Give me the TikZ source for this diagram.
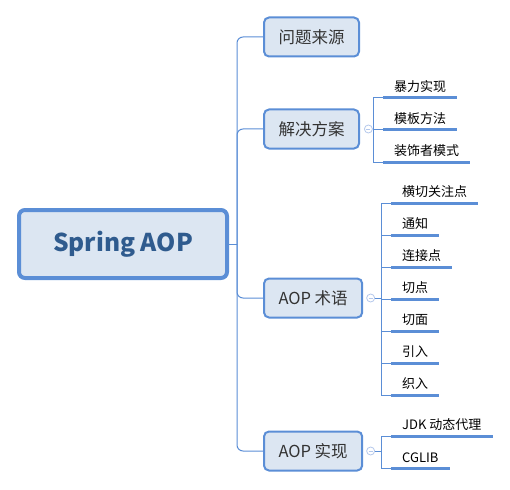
\documentclass[tikz,border=0pt]{standalone}
\usepackage{fontspec}
\setmainfont{Noto Sans CJK SC}
\usetikzlibrary{positioning}

\definecolor{edgeblue}{HTML}{5B8ED6}
\definecolor{boxfill}{HTML}{DCE6F2}
\definecolor{roottext}{HTML}{2F5B8E}
\definecolor{foldblue}{HTML}{B4C8EC}

\tikzset{
  rootbox/.style={draw=edgeblue, line width=4pt, fill=boxfill, rounded corners=6pt,
    minimum width=208pt, minimum height=68pt, text=roottext,
    font=\fontsize{24.5}{28}\selectfont\bfseries},
  topicbox/.style={draw=edgeblue, line width=2pt, fill=boxfill, rounded corners=5pt,
    anchor=west, inner xsep=14.5pt, minimum height=39pt, text=black!80,
    font=\fontsize{16.5}{20}\selectfont},
  leaf/.style={anchor=south west, inner xsep=11pt, inner ysep=5pt,
    font=\fontsize{13}{15}\selectfont},
  leafline/.style={draw=edgeblue, line width=3pt},
  branch/.style={draw=edgeblue, line width=1pt},
  fold/.style={circle, draw=foldblue, fill=white, inner sep=0pt, minimum size=8pt,
    line width=0.8pt,
    path picture={\draw[foldblue, line width=0.8pt]
      ([xshift=-2pt]path picture bounding box.center) --
      ([xshift=2pt]path picture bounding box.center);}},
}

\begin{document}
\begin{tikzpicture}[x=1pt, y=-1pt]
  \useasboundingbox (0,0) rectangle (510,489);

  % 中心主题
  \node[rootbox] (root) at (123,244) {Spring AOP};
  \coordinate (hub) at (237,244);

  % 一级分支
  \node[topicbox] (q1) at (263,37) {问题来源};
  \node[topicbox] (s1) at (263,129) {解决方案};
  \node[topicbox] (t1) at (263,298) {AOP 术语};
  \node[topicbox] (r1) at (263,451) {AOP 实现};

  \draw[branch] (root.east) -- (hub);
  \foreach \n in {q1,s1,t1,r1} {
    \draw[branch, rounded corners=6pt] (hub) |- (\n.west);
  }

  % 折叠按钮
  \node[fold, right=4pt of s1] (sfold) {};
  \node[fold, right=3pt of t1] (tfold) {};
  \node[fold, right=3pt of r1] (rfold) {};

  % 解决方案 的子主题
  \foreach \txt/\yy [count=\i] in {暴力实现/98, 模板方法/130, 装饰者模式/162} {
    \node[leaf] (sl\i) at (383,\yy) {\txt};
    \draw[leafline] (sl\i.south west) -- (sl\i.south east);
    \draw[branch] (sfold.east) -- (373,129) |- (sl\i.south west);
  }

  % AOP 术语 的子主题
  \foreach \txt/\yy [count=\i] in {横切关注点/203, 通知/235, 连接点/267, 切点/299,
                                   切面/331, 引入/363, 织入/395} {
    \node[leaf] (tl\i) at (391,\yy) {\txt};
    \draw[leafline] (tl\i.south west) -- (tl\i.south east);
    \draw[branch] (tfold.east) -- (381,298) |- (tl\i.south west);
  }

  % AOP 实现 的子主题
  \foreach \txt/\yy [count=\i] in {JDK 动态代理/436, CGLIB/468} {
    \node[leaf] (rl\i) at (391,\yy) {\txt};
    \draw[leafline] (rl\i.south west) -- (rl\i.south east);
    \draw[branch] (rfold.east) -- (381,451) |- (rl\i.south west);
  }
\end{tikzpicture}
\end{document}
